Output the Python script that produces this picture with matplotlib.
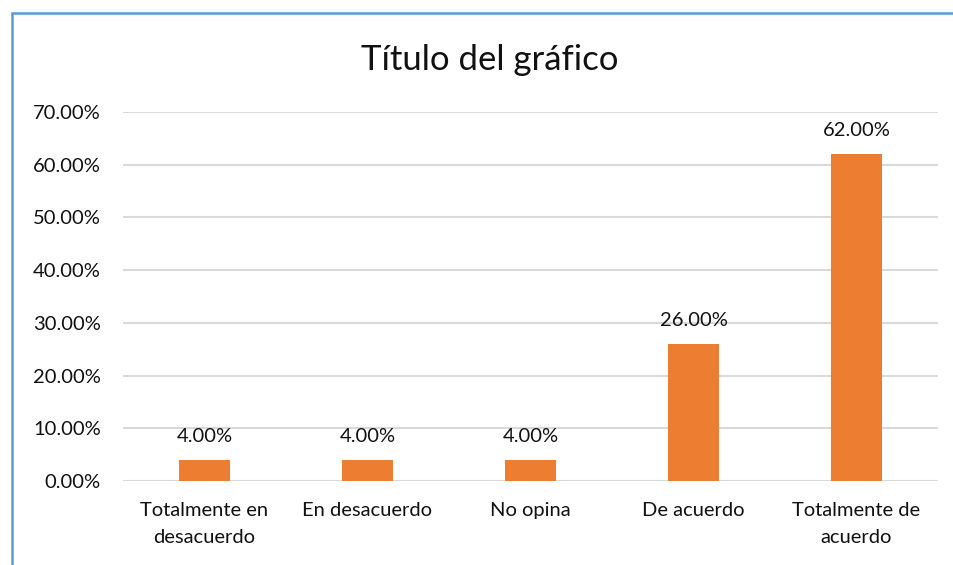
import matplotlib.pyplot as plt
from matplotlib.patches import Rectangle

categorias = ["Totalmente en\ndesacuerdo", "En desacuerdo", "No opina", "De acuerdo", "Totalmente de\nacuerdo"]
porcentajes = [4.0, 4.0, 4.0, 26.0, 62.0]
ticks_y = [0, 10, 20, 30, 40, 50, 60, 70]

plt.rcParams['font.family'] = ['Lato', 'DejaVu Sans']

fig = plt.figure(figsize=(9.54, 5.65), dpi=100)
ax = fig.add_axes([0.1289, 0.1487, 0.8543, 0.6531])

x = range(len(categorias))
barras = ax.bar(x, porcentajes, width=0.31, color="#ED7D31", zorder=3)
for b, v in zip(barras, porcentajes):
    ax.annotate(f"{v:.2f}%", (b.get_x() + b.get_width() / 2, v), xytext=(0, 11),
                textcoords="offset points", ha="center", va="bottom", fontsize=14.5, color="#111111")

ax.set_xlim(-0.5, len(categorias) - 0.5)
ax.set_ylim(0, 70)
ax.set_yticks(ticks_y)
ax.set_yticklabels([f"{t:.2f}%" for t in ticks_y], fontsize=14.5, color="#111111")
ax.set_xticks(list(x))
ax.set_xticklabels(categorias, fontsize=14.5, color="#111111", linespacing=1.7)
ax.tick_params(length=0)
ax.tick_params(axis="y", pad=16)
ax.tick_params(axis="x", pad=15)
ax.grid(axis="y", color="#D9D9D9", linewidth=1.5, zorder=0)
for s in ax.spines.values():
    s.set_visible(False)

fig.text(0.513, 0.894, "Título del gráfico", ha="center", va="center", fontsize=25, color="#111111")

fig.patches.append(Rectangle((12.5 / 954, -0.1), 1.2, 1 - 13 / 565 + 0.1, transform=fig.transFigure,
                             fill=False, edgecolor="#5B9BD5", linewidth=1.8))

fig.savefig("out.png", dpi=100)
